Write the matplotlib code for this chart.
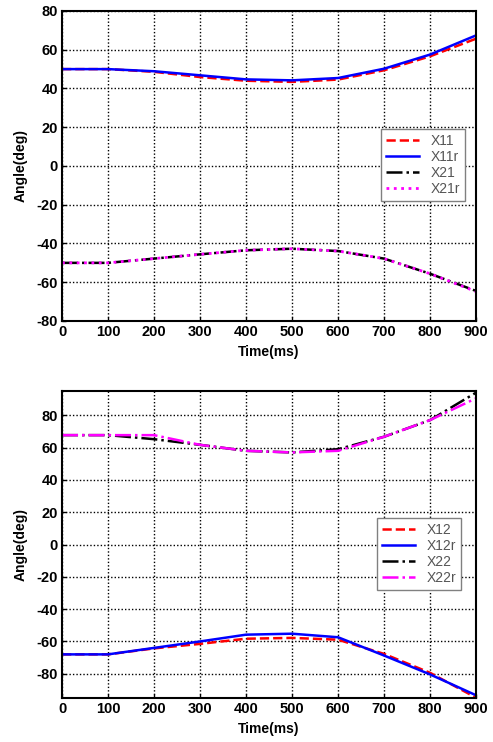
import numpy as np
import matplotlib.pyplot as plt

plt.rcParams['font.family'] = ['Liberation Sans', 'DejaVu Sans']
plt.rcParams['axes.unicode_minus'] = False

# time axis (ms)
t = [0, 100, 200, 300, 400, 500, 600, 700, 800, 900]

# top panel
x11 = [50, 50, 48.6, 45.9, 44.0, 43.4, 44.6, 49.4, 56.6, 65.7]
x11r = [50, 50, 48.9, 46.8, 44.7, 44.2, 45.4, 50.2, 57.5, 67.4]
x21 = [-50, -50, -47.8, -45.6, -43.5, -42.7, -43.9, -47.8, -55.6, -64.5]
x21r = [-50, -50, -47.8, -45.6, -43.5, -42.7, -43.9, -47.8, -55.6, -64.8]

# bottom panel
x12 = [-68, -68, -64.3, -61.5, -58.3, -57.8, -58.9, -67.7, -79.4, -94.8]
x12r = [-68, -68, -64.0, -60.0, -55.8, -55.2, -57.4, -68.7, -80.4, -93.3]
x22 = [67.7, 67.7, 65.2, 61.7, 58.0, 57.0, 59.0, 66.7, 77.0, 94.0]
x22r = [67.7, 67.7, 67.7, 61.7, 58.0, 57.0, 58.0, 66.7, 77.0, 90.5]

fig = plt.figure(figsize=(4.93, 7.42), dpi=100)
ax1 = fig.add_axes([0.1258, 0.5674, 0.8398, 0.4178])
ax2 = fig.add_axes([0.1258, 0.0593, 0.8398, 0.4137])


def style(ax, ylim, yticks):
    ax.set_xlim(0, 900)
    ax.set_ylim(*ylim)
    ax.set_xticks(range(0, 901, 100))
    ax.set_yticks(yticks)
    ax.grid(True, color='black', linestyle=(0, (1, 1.5)), linewidth=1)
    ax.tick_params(direction='in', length=3, labelsize=10.5, width=1, pad=3)
    for lab in ax.get_xticklabels() + ax.get_yticklabels():
        lab.set_fontweight('bold')
    for s in ax.spines.values():
        s.set_linewidth(1.5)
    ax.set_xlabel('Time(ms)', fontsize=10, fontweight='bold', labelpad=4)
    ax.set_ylabel('Angle(deg)', fontsize=10, fontweight='bold', labelpad=6)


ax1.plot(t, x11, 'r--', lw=1.8, label='X11')
ax1.plot(t, x11r, color='blue', lw=1.8, label='X11r')
ax1.plot(t, x21, 'k-.', lw=1.8, label='X21')
ax1.plot(t, x21r, color='magenta', ls=':', lw=2, label='X21r')
style(ax1, (-80, 80), range(-80, 81, 20))
leg1 = ax1.legend(loc='upper right', bbox_to_anchor=(0.99, 0.642), fancybox=False,
                  framealpha=1, edgecolor='gray', fontsize=10, handlelength=2.4,
                  labelspacing=0.15, borderpad=0.35, handletextpad=0.8)
for txt in leg1.get_texts():
    txt.set_color('#555555')

ax2.plot(t, x12, 'r--', lw=1.8, label='X12')
ax2.plot(t, x12r, color='blue', lw=1.8, label='X12r')
ax2.plot(t, x22, 'k-.', lw=1.8, label='X22')
ax2.plot(t, x22r, color='magenta', ls='-.', lw=1.8, label='X22r')
style(ax2, (-95, 95), range(-80, 81, 20))
leg2 = ax2.legend(loc='upper right', bbox_to_anchor=(0.98, 0.61), fancybox=False,
                  framealpha=1, edgecolor='gray', fontsize=10, handlelength=2.4,
                  labelspacing=0.15, borderpad=0.35, handletextpad=0.8)
for txt in leg2.get_texts():
    txt.set_color('#555555')

fig.savefig('out.png', dpi=100)
